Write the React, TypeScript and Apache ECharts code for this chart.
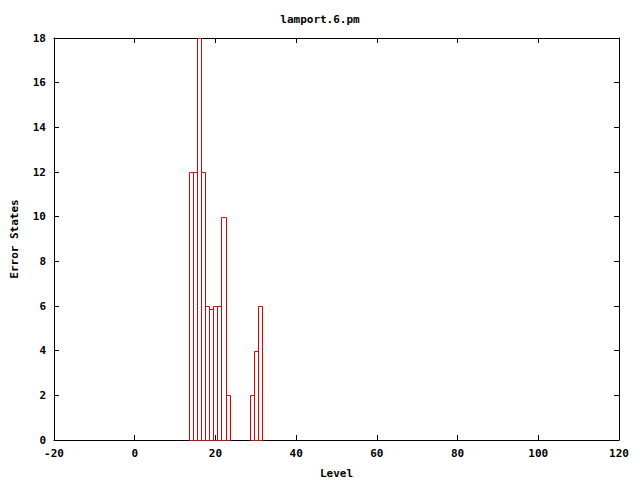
import React, { useEffect, useRef } from "react";
import * as echarts from "echarts";

const levels = [14, 15, 16, 17, 18, 19, 20, 21, 22, 23, 29, 30, 31];
const errorStates = [12, 12, 18, 12, 6, 5.85, 6, 6, 10, 2, 2, 4, 6];
const xTicks = { min: -20, max: 120, step: 20 };
const yTicks = { min: 0, max: 18, step: 2 };
const titleText = "lamport.6.pm";
const xName = "Level";
const yName = "Error States";

const FONT = "DejaVu Sans Mono";
const RED = "#e00000";

export default function App() {
  const ref = useRef<HTMLDivElement>(null);
  useEffect(() => {
    if (!ref.current) return;
    const chart = echarts.init(ref.current, null, { renderer: "svg" });
    const txt = { fontFamily: FONT, fontWeight: "bold" as const, fontSize: 11, color: "#000" };
    const axisCommon = {
      axisLine: { show: true, onZero: false, lineStyle: { color: "#000", width: 1 } },
      axisTick: { show: true, inside: true, length: 5, lineStyle: { color: "#000" } },
      splitLine: { show: false },
    };
    chart.setOption({
      animation: false,
      backgroundColor: "#fff",
      title: {
        text: titleText,
        left: "center",
        top: 9,
        textStyle: { ...txt },
      },
      grid: { left: 54, right: 21, top: 38, bottom: 40, outerBoundsMode: "none", containLabel: false },
      xAxis: [
        {
          type: "value",
          min: xTicks.min,
          max: xTicks.max,
          interval: xTicks.step,
          position: "bottom",
          name: xName,
          nameLocation: "middle",
          nameGap: 28,
          nameTextStyle: { ...txt },
          axisLabel: { ...txt, margin: 8 },
          ...axisCommon,
        },
        {
          type: "value",
          min: xTicks.min,
          max: xTicks.max,
          interval: xTicks.step,
          position: "top",
          axisLabel: { show: false },
          ...axisCommon,
        },
      ],
      yAxis: [
        {
          type: "value",
          min: yTicks.min,
          max: yTicks.max,
          interval: yTicks.step,
          position: "left",
          name: yName,
          nameLocation: "middle",
          nameGap: 34,
          nameRotate: 90,
          nameTextStyle: { ...txt },
          axisLabel: { ...txt, margin: 8 },
          ...axisCommon,
        },
        {
          type: "value",
          min: yTicks.min,
          max: yTicks.max,
          interval: yTicks.step,
          position: "right",
          axisLabel: { show: false },
          ...axisCommon,
        },
      ],
      series: [
        {
          type: "custom",
          xAxisIndex: 0,
          yAxisIndex: 0,
          silent: true,
          emphasis: { disabled: true },
          data: levels.map((l, i) => [l, errorStates[i]]),
          renderItem: (params: any, api: any) => {
            const x = api.value(0);
            const y = api.value(1);
            const p0 = api.coord([x - 0.5, y]);
            const p1 = api.coord([x + 0.5, 0]);
            const x0 = Math.round(p0[0]) + 0.5;
            const x1 = Math.round(p1[0]) + 0.5;
            const y0 = Math.round(p0[1]) + 0.5;
            const y1 = Math.round(p1[1]) + 0.5;
            return {
              type: "rect",
              shape: { x: x0, y: y0, width: x1 - x0, height: y1 - y0 },
              style: { fill: "none", stroke: RED, lineWidth: 1 },
            };
          },
        },
      ],
    });
    return () => chart.dispose();
  }, []);
  return (
    <div
      ref={ref}
      style={{ position: "fixed", left: 0, top: 0, width: 640, height: 480 }}
    />
  );
}
